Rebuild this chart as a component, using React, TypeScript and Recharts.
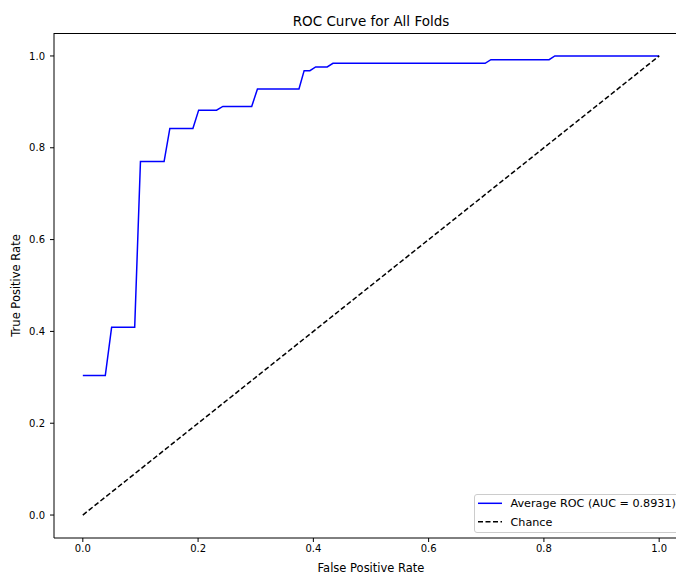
import React from "react";
import { LineChart, Line, XAxis, YAxis, Label } from "recharts";

// mean ROC curve
const FPR = [0, 0.039, 0.05, 0.09, 0.1, 0.141, 0.151, 0.191, 0.201, 0.232, 0.243, 0.293, 0.303, 0.375, 0.384, 0.394, 0.404, 0.424, 0.434, 0.698, 0.708, 0.809, 0.819, 1.0];
const TPR = [0.304, 0.304, 0.409, 0.409, 0.77, 0.77, 0.842, 0.842, 0.882, 0.882, 0.89, 0.89, 0.928, 0.928, 0.968, 0.968, 0.976, 0.976, 0.984, 0.984, 0.992, 0.992, 1.0, 1.0];

const CHANCE_X = [0, 1];
const CHANCE_Y = [0, 1];

const TICKS = [0, 0.2, 0.4, 0.6, 0.8, 1.0];
const DOMAIN: [number, number] = [-0.05, 1.05];

const rocData = FPR.map((x, i) => ({ x, y: TPR[i] }));
const chanceData = CHANCE_X.map((x, i) => ({ x, y: CHANCE_Y[i] }));

const FONT = "'DejaVu Sans', sans-serif";
const tickStyle = { fontSize: 10, fill: "#000", fontFamily: FONT };
const labelStyle = { fontSize: 11.5, fill: "#000", fontFamily: FONT };

function LegendBox() {
  return (
    <svg width={209} height={40} style={{ display: "block" }}>
      <rect x={0.5} y={0.5} width={208} height={38} rx={2.5} fill="rgba(255,255,255,0.8)" stroke="#cccccc" />
      <line x1={4} x2={28} y1={9.3} y2={9.3} stroke="#0000ff" strokeWidth={1.5} />
      <text x={36.5} y={13.4} fontSize={11.2} fontFamily={FONT} fill="#000">Average ROC (AUC = 0.8931)</text>
      <line x1={4} x2={28} y1={27.7} y2={27.7} stroke="#000" strokeWidth={1.5} strokeDasharray="5 2.5" />
      <text x={36.5} y={31.8} fontSize={11.2} fontFamily={FONT} fill="#000">Chance</text>
    </svg>
  );
}

export default function App() {
  return (
    <div style={{ position: "absolute", left: 0, top: 0, width: 676, height: 573, overflow: "hidden", background: "#fff" }}>
      <div style={{
        position: "absolute", left: 54, width: 634, top: 13, textAlign: "center",
        fontFamily: FONT, fontSize: 13.5, color: "#000", lineHeight: "16px",
      }}>
        ROC Curve for All Folds
      </div>
      {/* top spine */}
      <div style={{ position: "absolute", left: 54, top: 33, width: 634, height: 1, background: "#000" }} />
      <LineChart width={700} height={573} margin={{ top: 33, right: 12, bottom: 0, left: 0 }}>
        <XAxis
          dataKey="x"
          type="number"
          domain={DOMAIN}
          ticks={TICKS}
          tickFormatter={(v: number) => v.toFixed(1)}
          allowDataOverflow
          height={35}
          tick={tickStyle}
          tickSize={4}
          tickMargin={3}
          tickLine={{ stroke: "#000" }}
          axisLine={{ stroke: "#000" }}
        >
          <Label value="False Positive Rate" position="insideBottom" offset={1.5} style={labelStyle} />
        </XAxis>
        <YAxis
          type="number"
          domain={DOMAIN}
          ticks={TICKS}
          tickFormatter={(v: number) => v.toFixed(1)}
          allowDataOverflow
          width={54}
          tick={tickStyle}
          tickSize={4}
          tickMargin={5}
          tickLine={{ stroke: "#000" }}
          axisLine={{ stroke: "#000" }}
        >
          <Label value="True Positive Rate" angle={-90} position="insideLeft" offset={16}
            style={{ ...labelStyle, textAnchor: "middle" }} />
        </YAxis>
        <Line
          data={rocData}
          dataKey="y"
          name="Average ROC (AUC = 0.8931)"
          type="linear"
          stroke="#0000ff"
          strokeWidth={1.5}
          dot={false}
          activeDot={false}
          isAnimationActive={false}
        />
        <Line
          data={chanceData}
          dataKey="y"
          name="Chance"
          type="linear"
          stroke="#000"
          strokeWidth={1.5}
          strokeDasharray="5 2.5"
          dot={false}
          activeDot={false}
          isAnimationActive={false}
        />
      </LineChart>
      <div style={{ position: "absolute", left: 474, top: 494 }}>
        <LegendBox />
      </div>
    </div>
  );
}
